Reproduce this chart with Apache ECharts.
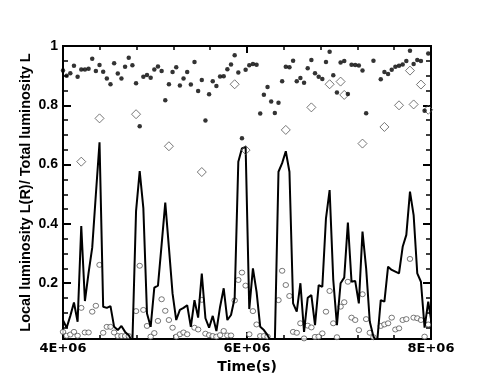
<!DOCTYPE html>
<html>
<head>
<meta charset="utf-8">
<script src="https://cdn.jsdelivr.net/npm/echarts@6/dist/echarts.min.js"></script>
<style>
  html, body { margin: 0; padding: 0; background: #fff; }
  #chart { width: 491px; height: 382px; }
</style>
</head>
<body>
<div id="chart"></div>
<script>
// sampling times (s)
const times = [
  4000000, 4039700, 4079400, 4119100, 4158800, 4198500, 4238200, 4277900, 4317600, 4357300,
  4397000, 4436700, 4476400, 4516100, 4555800, 4595500, 4635200, 4674900, 4714600, 4754300,
  4794000, 4833700, 4873400, 4913100, 4952800, 4992500, 5032200, 5071900, 5111600, 5151300,
  5191000, 5230700, 5270400, 5310100, 5349800, 5389500, 5429200, 5468900, 5508600, 5548300,
  5588000, 5627700, 5667400, 5707100, 5746800, 5786500, 5826200, 5865900, 5905600, 5945300,
  5985000, 6024700, 6064400, 6104100, 6143800, 6183500, 6223200, 6262900, 6302600, 6342300,
  6382000, 6421700, 6461400, 6501100, 6540800, 6580500, 6620200, 6659900, 6699600, 6739300,
  6779000, 6818700, 6858400, 6898100, 6937800, 6977500, 7017200, 7056900, 7096600, 7136300,
  7176000, 7215700, 7255400, 7295100, 7334800, 7374500, 7414200, 7453900, 7493600, 7533300,
  7573000, 7612700, 7652400, 7692100, 7731800, 7771500, 7811200, 7850900, 7890600, 7930300,
  7970000, 8009700
];

// filled dots
const filledDots = [
  0.917, 0.900, 0.908, 0.933, 0.896, 0.921, 0.921, 0.923, 0.957, 0.916,
  0.936, 0.913, 0.890, 0.871, 0.942, 0.907, 0.890, 0.930, 0.960, 0.935,
  0.874, 0.729, 0.896, 0.902, 0.893, 0.921, 0.931, 0.916, 0.817, 0.871,
  0.912, 0.928, 0.867, 0.890, 0.912, 0.870, 0.946, 0.848, 0.885, 0.749,
  0.837, 0.881, 0.865, 0.897, 0.898, 0.922, 0.938, 0.969, 0.911, 0.689,
  0.920, 0.935, 0.939, 0.937, 0.772, 0.836, 0.862, 0.813, 0.774, 0.809,
  0.881, 0.930, 0.928, 0.950, 0.881, 0.892, 0.876, 0.925, 0.953, 0.908,
  0.896, 0.889, 0.946, 0.981, 0.901, 0.843, 0.944, 0.949, 0.838, 0.937,
  0.936, 0.934, 0.917, 0.773, null, 0.950, null, 0.888, 0.912, 0.906,
  0.920, 0.930, 0.933, 0.938, 0.949, 0.984, 0.939, 0.953, 0.949, 0.782,
  0.975, null
];

// solid line
const lineValues = [
  0.075, 0.050, 0.090, 0.135, 0.070, 0.393, 0.140, 0.235, 0.320, 0.500,
  0.675, 0.121, 0.117, 0.123, 0.053, 0.042, 0.056, 0.036, 0.025, 0.000,
  0.443, 0.578, 0.453, 0.098, 0.053, 0.185, 0.192, 0.330, 0.472, 0.320,
  0.165, 0.076, 0.110, 0.117, 0.126, 0.053, 0.143, 0.084, 0.233, 0.082,
  0.050, 0.090, 0.039, 0.120, 0.183, 0.076, 0.093, 0.150, 0.610, 0.655,
  0.660, 0.113, 0.250, 0.171, 0.053, 0.042, 0.025, 0.000, 0.000, 0.576,
  0.605, 0.645, 0.576, 0.132, 0.104, 0.200, 0.036, 0.151, 0.160, 0.059,
  0.194, 0.188, 0.419, 0.514, 0.211, 0.059, 0.200, 0.219, 0.405, 0.205,
  0.208, 0.132, 0.374, 0.250, 0.070, 0.020, 0.000, 0.143, 0.138, 0.256,
  0.245, 0.239, 0.233, 0.323, 0.363, 0.509, 0.430, 0.233, 0.205, 0.050,
  0.138, 0.060
];

// open circles
const openCircles = [
  0.036, 0.023, 0.027, 0.036, 0.023, 0.117, 0.034, 0.034, 0.104, 0.124,
  0.262, 0.033, 0.053, 0.053, 0.034, 0.022, 0.022, 0.022, 0.022, null,
  0.106, 0.259, 0.110, 0.056, 0.020, 0.032, 0.073, 0.146, 0.107, 0.076,
  0.050, 0.020, 0.028, 0.034, 0.028, null, 0.050, 0.044, 0.144, 0.030,
  0.025, 0.022, 0.020, 0.025, 0.039, 0.024, 0.024, 0.142, 0.211, 0.236,
  0.192, 0.028, 0.106, 0.061, 0.022, 0.022, 0.020, null, null, 0.143,
  0.242, 0.194, 0.157, 0.036, 0.033, 0.065, 0.014, 0.057, 0.051, 0.019,
  0.020, 0.031, 0.104, 0.174, 0.065, 0.018, 0.121, 0.136, 0.205, 0.084,
  0.076, 0.042, 0.163, 0.079, 0.033, 0.018, null, 0.056, 0.061, 0.065,
  0.084, 0.044, 0.048, 0.076, 0.079, 0.282, 0.084, 0.082, 0.076, 0.020,
  0.061, null
];

// open diamonds
const diamondTimes = [
  4198500, 4397000, 4794000, 5151300, 5508600, 5865900, 5985000, 6421700, 6699600, 6898100,
  7017200, 7056900, 7255400, 7493600, 7652400, 7771500, 7811200, 7890600, 7970000
];
const diamondValues = [
  0.610, 0.756, 0.770, 0.662, 0.575, 0.871, 0.649, 0.717, 0.793, 0.871,
  0.880, 0.835, 0.671, 0.727, 0.800, 0.917, 0.803, 0.870, 0.785
];

const yMajorTicks = [0.2, 0.4, 0.6, 0.8, 1];
const yMinorTicks = [0.05, 0.1, 0.15, 0.25, 0.3, 0.35, 0.45, 0.5, 0.55, 0.65, 0.7, 0.75, 0.85, 0.9, 0.95];

const Y_MIN = 0.012;
const ARIAL = "Arial, 'Liberation Sans', Helvetica, sans-serif";

function pairs(xs, ys) {
  return xs.map((t, i) => [t, ys[i]]).filter((p) => p[1] != null);
}

const chart = echarts.init(document.getElementById("chart"));

const axisLine = { show: true, onZero: false, lineStyle: { color: "#000", width: 2 } };

function yAxisSide(position, ticks, len, width, withLabels) {
  return {
    type: "value",
    position,
    min: Y_MIN,
    max: 1,
    axisLine,
    axisTick: { show: true, inside: true, length: len, customValues: ticks, lineStyle: { color: "#000", width } },
    axisLabel: withLabels
      ? { show: true, customValues: yMajorTicks, margin: 5, color: "#000", fontFamily: ARIAL, fontWeight: "bold", fontSize: 14 }
      : { show: false },
    splitLine: { show: false },
  };
}

const xTickBase = {
  type: "value",
  min: 4000000,
  max: 8000000,
  interval: 2000000,
  axisLine,
  axisTick: { show: true, inside: true, length: 7, lineStyle: { color: "#000", width: 2 } },
  minorTick: { show: true, splitNumber: 5, length: 4, lineStyle: { color: "#000", width: 1.5 } },
  splitLine: { show: false },
};

chart.setOption({
  animation: false,
  backgroundColor: "#fff",
  grid: { left: 63, right: 60, top: 46, bottom: 43 },
  xAxis: [
    {
      ...xTickBase,
      position: "bottom",
      name: "Time(s)",
      nameLocation: "middle",
      nameGap: 21,
      nameMoveOverlap: false,
      nameTextStyle: { color: "#000", fontFamily: "DejaVu Sans", fontWeight: "bold", fontSize: 14 },
      axisLabel: {
        margin: 3,
        color: "#000",
        fontFamily: "DejaVu Sans",
        fontWeight: "bold",
        fontSize: 13,
        formatter: (v) => v / 1000000 + "E+06",
      },
    },
    { ...xTickBase, position: "top", axisLabel: { show: false } },
  ],
  yAxis: [
    {
      ...yAxisSide("left", yMajorTicks, 8, 2, true),
      name: "Local luminosity L(R)/ Total luminosity L",
      nameLocation: "middle",
      nameRotate: 90,
      nameGap: 30,
      nameMoveOverlap: false,
      nameTextStyle: { color: "#000", fontFamily: ARIAL, fontWeight: "bold", fontSize: 14.5 },
    },
    yAxisSide("left", yMinorTicks, 5, 1.5, false),
    yAxisSide("right", yMajorTicks, 8, 2, false),
    yAxisSide("right", yMinorTicks, 5, 1.5, false),
  ],
  series: [
    {
      type: "scatter",
      data: pairs(times, openCircles),
      symbol: "circle",
      symbolSize: [5.5, 5],
      itemStyle: { color: "#fff", borderColor: "#444", borderWidth: 0.9 },
      z: 2,
    },
    {
      type: "line",
      data: pairs(times, lineValues),
      showSymbol: false,
      symbol: "none",
      lineStyle: { color: "#000", width: 2 },
      clip: true,
      z: 3,
    },
    {
      type: "scatter",
      data: pairs(diamondTimes, diamondValues),
      symbol: "diamond",
      symbolSize: 9,
      itemStyle: { color: "rgba(255,255,255,0)", borderColor: "#555", borderWidth: 1 },
      z: 4,
    },
    {
      type: "scatter",
      data: pairs(times, filledDots),
      symbol: "circle",
      symbolSize: 4.5,
      itemStyle: { color: "#000" },
      z: 5,
    },
  ],
});
</script>
</body>
</html>
